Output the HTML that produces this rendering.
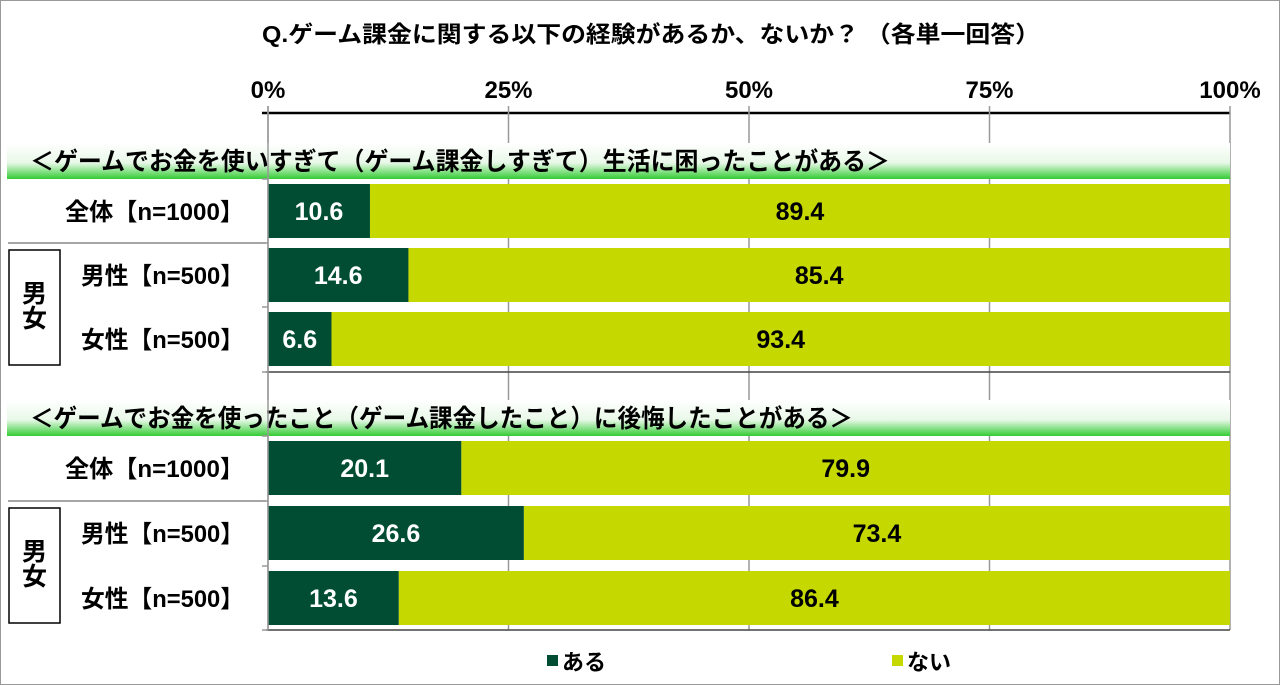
<!DOCTYPE html>
<html><head><meta charset="utf-8"><style>
body{margin:0;background:#fff;}
svg{display:block;font-family:"Liberation Sans","Noto Sans CJK JP",sans-serif;font-weight:bold;}
</style></head><body>
<svg id="c" width="1280" height="685" viewBox="0 0 1280 685">
<defs><linearGradient id="g" x1="0" y1="0" x2="0" y2="1">
<stop offset="0" stop-color="#fff"/><stop offset="0.55" stop-color="#e8f8e8"/><stop offset="1" stop-color="#33cc33"/></linearGradient></defs>
<rect x="0.5" y="0.5" width="1279" height="684" fill="none" stroke="#999"/>
<text x="262" y="42" font-size="23" textLength="778" lengthAdjust="spacingAndGlyphs">Q.ゲーム課金に関する以下の経験があるか、ないか？ （各単一回答）</text>
<g id="axis"></g>
<g id="plot"></g>
<g>
<rect x="547" y="655" width="11" height="11" fill="#004d33"/>
<text x="562" y="670" font-size="22">ある</text>
<rect x="892" y="655" width="11" height="11" fill="#c5d800"/>
<text x="907" y="670" font-size="22">ない</text>
</g>
</svg>
<script>
const ticks=[0,25,50,75,100];
const tickLabels=["0%","25%","50%","75%","100%"];
const sections=["＜ゲームでお金を使いすぎて（ゲーム課金しすぎて）生活に困ったことがある＞","＜ゲームでお金を使ったこと（ゲーム課金したこと）に後悔したことがある＞"];
const sectionWidths=[860,823];
const rowLabels=["全体【n=1000】","男性【n=500】","女性【n=500】"];
const aru1=[10.6,14.6,6.6];
const nai1=[89.4,85.4,93.4];
const aru2=[20.1,26.6,13.6];
const nai2=[79.9,73.4,86.4];
const NS="http://www.w3.org/2000/svg";
const x0=268,x1=1230;
const X=v=>x0+(x1-x0)*v/100;
function mk(t,a,p){const e=document.createElementNS(NS,t);for(const k in a)e.setAttribute(k,a[k]);(p||document.getElementById('plot')).appendChild(e);return e;}
const ax=document.getElementById('axis');
let l=mk('line',{x1:262,y1:113,x2:1230,y2:113,stroke:'#000','stroke-width':2.5},ax);

ticks.forEach((t,i)=>{
 let g=mk('line',{x1:X(t),y1:106,x2:X(t),y2:630,stroke:'#999','stroke-width':1.5},ax);
 
 let tx=mk('text',{x:X(t),y:98,'font-size':24,'text-anchor':'middle'},ax);
 tx.textContent=tickLabels[i];
 
});
const secs=[{hy:143,rows:[184,248,312],bottom:372,aru:aru1,nai:nai1},{hy:400,rows:[441,506,571],bottom:630,aru:aru2,nai:nai2}];
secs.forEach((s,si)=>{
 let h=mk('rect',{x:7,y:s.hy,width:1223,height:36,fill:'url(#g)'});
 
 let ht=mk('text',{x:30,y:s.hy+27,'font-size':25,textLength:sectionWidths[si],lengthAdjust:'spacingAndGlyphs'});
 ht.textContent=sections[si];
 
 let sep=mk('line',{x1:8,y1:s.rows[1]-5,x2:266,y2:s.rows[1]-5,stroke:'#888','stroke-width':1.5});
 
 let bx=mk('rect',{x:9,y:s.rows[1]+2,width:51,height:s.bottom-s.rows[1]-9,fill:'#fff',stroke:'#000','stroke-width':1.5});
 
 let b1=mk('text',{x:34.5,y:s.rows[1]+54,'font-size':25,'text-anchor':'middle'});b1.textContent='男';
 
 let b2=mk('text',{x:34.5,y:s.rows[1]+79,'font-size':25,'text-anchor':'middle'});b2.textContent='女';
 
 let bl=mk('line',{x1:266,y1:s.bottom,x2:1230,y2:s.bottom,stroke:'#444','stroke-width':1.5});
 
 s.rows.forEach((y,ri)=>{
  let tk=mk('line',{x1:262,y1:y-5,x2:268,y2:y-5,stroke:'#999','stroke-width':1.5});
  
  let lb=mk('text',{x:244,y:y+36,'font-size':24,'text-anchor':'end',textLength:ri==0?179:163,lengthAdjust:'spacingAndGlyphs'});lb.textContent=rowLabels[ri];
  
  const a=s.aru[ri],n=s.nai[ri];
  let ra=mk('rect',{x:X(0),y:y,width:X(a)-X(0),height:54,fill:'#004d33'});
  
  let rn=mk('rect',{x:X(a),y:y,width:X(a+n)-X(a),height:54,fill:'#c5d800'});
  
  let ta=mk('text',{x:Math.max((X(0)+X(a))/2,X(0)+31),y:y+36,'font-size':25,fill:'#fff','text-anchor':'middle'});
  ta.textContent=a.toFixed(1);
  
  let tn=mk('text',{x:(X(a)+X(a+n))/2,y:y+36,'font-size':25,fill:'#000','text-anchor':'middle'});
  tn.textContent=n.toFixed(1);
  
 });
 let tk=mk('line',{x1:262,y1:s.bottom,x2:268,y2:s.bottom,stroke:'#999','stroke-width':1.5});
 
});
let vl=mk('line',{x1:X(0),y1:106,x2:X(0),y2:630,stroke:'#999','stroke-width':1.5});

</script>
</body></html>
